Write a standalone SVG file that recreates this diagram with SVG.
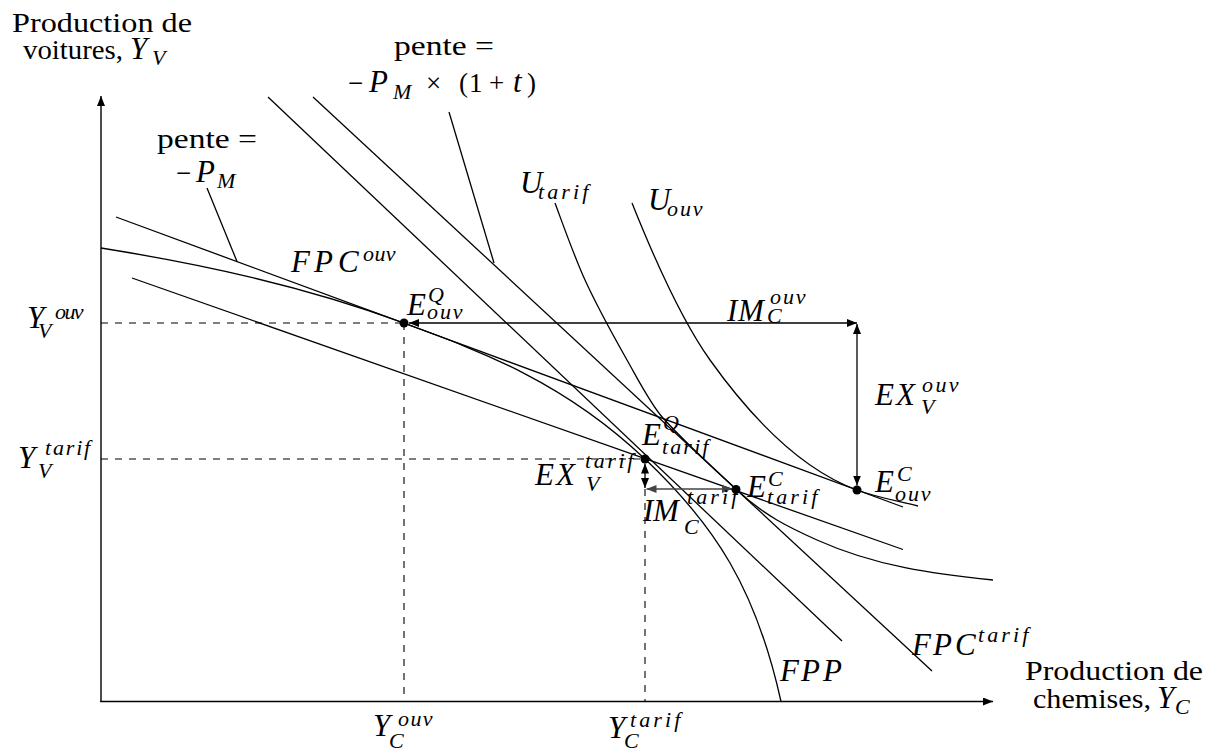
<svg xmlns="http://www.w3.org/2000/svg" width="1213" height="751" viewBox="0 0 1213 751">
<style>
.ln{fill:none;stroke:#000;stroke-width:1.3}
.ax{fill:none;stroke:#000;stroke-width:1.4}
.da{fill:none;stroke:#000;stroke-width:1.1;stroke-dasharray:7 7}
.ar{fill:none;stroke:#000;stroke-width:1.3}
.rm{font-family:"Liberation Serif",serif;font-size:27px;fill:#000}
.m{font-family:"Liberation Serif",serif;font-size:31px;font-style:italic;fill:#000}
.s{font-size:22px}
.dot{fill:#000}
</style>
<defs>
<marker id="ah" viewBox="0 0 10 8" refX="10" refY="4" markerWidth="10" markerHeight="8" markerUnits="userSpaceOnUse" orient="auto-start-reverse"><path d="M0,0 L10,4 L0,8 z" fill="#000"/></marker>
<marker id="ahg" viewBox="0 0 10 8" refX="10" refY="4" markerWidth="10" markerHeight="8" markerUnits="userSpaceOnUse" orient="auto-start-reverse"><path d="M0,0 L10,4 L0,8 z" fill="#444"/></marker>
</defs>

<g id="axes">
<line class="ax" x1="101" y1="702" x2="101" y2="96" marker-end="url(#ah)"/>
<line class="ax" x1="100.3" y1="701.5" x2="993" y2="701.5" marker-end="url(#ah)"/>
<text class="rm" x="12" y="32" textLength="180" lengthAdjust="spacingAndGlyphs">Production de</text>
<text class="rm" x="23" y="59" textLength="100" lengthAdjust="spacingAndGlyphs">voitures,</text>
<text class="m"><tspan x="130" y="59">Y</tspan><tspan class="s" x="152" y="65">V</tspan></text>
<text class="rm" x="1025" y="680" textLength="178" lengthAdjust="spacingAndGlyphs">Production de</text>
<text class="rm" x="1033" y="708" textLength="118" lengthAdjust="spacingAndGlyphs">chemises,</text>
<text class="m"><tspan x="1157" y="708">Y</tspan><tspan class="s" x="1175" y="714">C</tspan></text>
</g>

<g id="guides">
<line class="da" x1="101" y1="323" x2="404" y2="323"/>
<line class="da" x1="404" y1="323" x2="404" y2="701"/>
<line class="da" x1="101" y1="459" x2="645" y2="459"/>
<line class="da" x1="645" y1="489" x2="645" y2="701"/>
<text class="m"><tspan x="27" y="328">Y</tspan><tspan class="s" x="55 64.4 73.7" y="319">ouv</tspan><tspan class="s" x="38" y="338">V</tspan></text>
<text class="m"><tspan x="18" y="468">Y</tspan><tspan class="s" x="45 53 65.8 76.2 84.1" y="455">tarif</tspan><tspan class="s" x="38" y="478">V</tspan></text>
<text class="m"><tspan x="373" y="736">Y</tspan><tspan class="s" x="398 410.4 422.7" y="726">ouv</tspan><tspan class="s" x="389" y="748">C</tspan></text>
<text class="m"><tspan x="608" y="738">Y</tspan><tspan class="s" x="630 639.3 653.3 665 674.3" y="727">tarif</tspan><tspan class="s" x="624" y="748">C</tspan></text>
</g>

<g id="FPP">
<path class="ln" d="M101,248 C202,264.2 303,285.8 404,323 C484.3,352.6 564.7,382.9 645,459 C715,525.3 756,588.5 781,701.5"/>
<text class="m" x="780 801 823" y="681">FPP</text>
</g>

<g id="FPC_ouv">
<line class="ln" x1="116" y1="217" x2="903" y2="507"/>
<text class="m"><tspan x="291 314 338" y="272">FPC</tspan><tspan class="s" x="363 374.4 385.7" y="261">ouv</tspan></text>
</g>

<g id="FPC_tarif_world">
<line class="ln" x1="132" y1="278" x2="903" y2="549.5"/>
</g>

<g id="domestic_price_prod">
<line class="ln" x1="268" y1="97" x2="842" y2="641"/>
</g>

<g id="FPC_tarif">
<line class="ln" x1="313" y1="97" x2="932" y2="671"/>
<text class="m"><tspan x="912 933 955" y="655">FPC</tspan><tspan class="s" x="978 987.3 1001.3 1013 1022.3" y="642">tarif</tspan></text>
</g>

<g id="U_tarif">
<path class="ln" d="M555,203 C565,230 575,258.2 585,280 C599,310.5 613,335.2 627,360 C639,381.2 651,404.8 663,418 C687.3,444.8 711.7,466.4 736,489 C763,515.1 790,527.8 817,540 C875.7,566.4 934.3,574.1 993,580"/>
<text class="m"><tspan x="520" y="193">U</tspan><tspan class="s" x="538 547.3 561.3 573 582.3" y="199">tarif</tspan></text>
</g>

<g id="U_ouv">
<path class="ln" d="M632,203 C658,268 684,323.6 710,360 C759,428.6 808,472 857,490 C877,497.4 898,501 918,506"/>
<text class="m"><tspan x="648" y="210">U</tspan><tspan class="s" x="667 679.9 692.7" y="216">ouv</tspan></text>
</g>

<g id="pente_world">
<line class="ln" x1="207" y1="188" x2="237" y2="261.5"/>
<text class="rm" x="157" y="148" textLength="100" lengthAdjust="spacingAndGlyphs">pente =</text>
<text class="rm"><tspan x="176" y="182">−</tspan><tspan class="m" x="196" y="182">P</tspan><tspan class="m s" x="217" y="188">M</tspan></text>
</g>

<g id="pente_tarif">
<line class="ln" x1="449" y1="112" x2="494" y2="263"/>
<text class="rm" x="394" y="55" textLength="100" lengthAdjust="spacingAndGlyphs">pente =</text>
<text class="rm"><tspan x="348" y="92">−</tspan><tspan class="m" x="369" y="92">P</tspan><tspan class="m s" x="393" y="99">M</tspan><tspan x="426" y="92">×</tspan><tspan x="459" y="92">(</tspan><tspan x="469" y="92">1</tspan><tspan x="489" y="92">+</tspan><tspan class="m" x="513" y="92">t</tspan><tspan x="527" y="92">)</tspan></text>
</g>

<g id="connectors">
<line class="ar" x1="409" y1="323" x2="857" y2="323" marker-start="url(#ah)" marker-end="url(#ah)"/>
<line class="ar" x1="857" y1="324" x2="857" y2="485.5" marker-start="url(#ah)" marker-end="url(#ah)"/>
<line class="ar" x1="645" y1="463.5" x2="645" y2="488" marker-start="url(#ah)" marker-end="url(#ah)"/>
<line class="ar" x1="646.5" y1="489" x2="732" y2="489" style="stroke:#444" marker-start="url(#ahg)" marker-end="url(#ahg)"/>
</g>

<g id="E_ouv_Q">
<circle class="dot" cx="404" cy="323" r="4.5"/>
<text class="m"><tspan x="407" y="315">E</tspan><tspan class="s" x="428" y="302">Q</tspan><tspan class="s" x="427 439.9 452.7" y="319">ouv</tspan></text>
</g>

<g id="E_ouv_C">
<circle class="dot" cx="857" cy="490" r="4.5"/>
<text class="m"><tspan x="875" y="492">E</tspan><tspan class="s" x="897" y="481">C</tspan><tspan class="s" x="895 907.9 920.7" y="501">ouv</tspan></text>
</g>

<g id="E_tarif_Q">
<circle class="dot" cx="645" cy="459" r="4.5"/>
<text class="m"><tspan x="642" y="445">E</tspan><tspan class="s" x="663" y="430">Q</tspan><tspan class="s" x="662 670.3 683.3 694.2 702.3" y="454">tarif</tspan></text>
</g>

<g id="E_tarif_C">
<circle class="dot" cx="736" cy="489.5" r="4.5"/>
<text class="m"><tspan x="747" y="497">E</tspan><tspan class="s" x="768" y="486">C</tspan><tspan class="s" x="767 776.3 790.3 802 811.3" y="504">tarif</tspan></text>
</g>

<g id="labels_flows">
<text class="m"><tspan x="727 738" y="321">IM</tspan><tspan class="s" x="770 782.9 795.7" y="304">ouv</tspan><tspan class="s" x="767" y="323">C</tspan></text>
<text class="m"><tspan x="875 896" y="405">EX</tspan><tspan class="s" x="922 935.4 948.7" y="392">ouv</tspan><tspan class="s" x="921" y="414">V</tspan></text>
<text class="m"><tspan x="535 556" y="485">EX</tspan><tspan class="s" x="585 593.8 607.3 618.5 627.3" y="468">tarif</tspan><tspan class="s" x="586" y="491">V</tspan></text>
<text class="m"><tspan x="643 653" y="521">IM</tspan><tspan class="s" x="687 696.3 710.3 722 731.3" y="504">tarif</tspan><tspan class="s" x="684" y="534">C</tspan></text>
</g>
</svg>
